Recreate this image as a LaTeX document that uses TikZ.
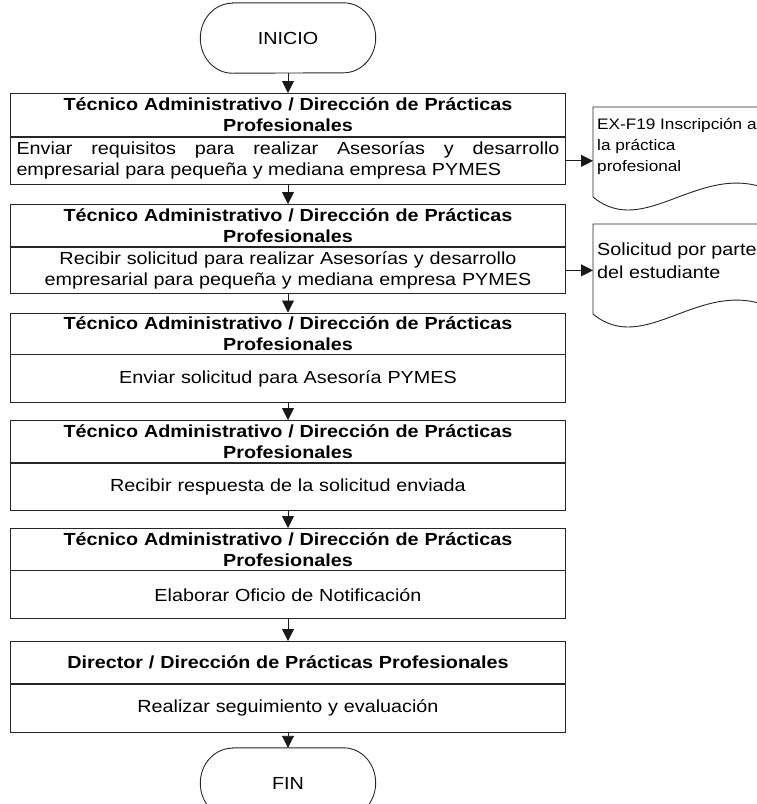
\documentclass[tikz,border=0pt]{standalone}
\usepackage{fontspec}
\setmainfont{Liberation Sans}[FakeStretch=1.13]
\usetikzlibrary{arrows.meta,calc}
\hyphenpenalty=10000
\exhyphenpenalty=10000
\begin{document}
\begin{tikzpicture}[x=1pt,y=-1pt,
  line/.style={draw=black!85, line width=0.9pt},
  arr/.style={draw=black!90, line width=0.9pt, -{Triangle[length=12pt,width=12pt]}},
  hdr/.style={line, anchor=north, minimum width=554.5pt, text width=545pt, align=center, inner sep=0pt, font=\fontsize{17.5}{21}\selectfont\bfseries},
  bdy/.style={line, anchor=north, minimum width=554.5pt, text width=543pt, align=center, inner sep=0pt, font=\fontsize{17.5}{21}\selectfont},
  term/.style={minimum width=175pt, minimum height=70pt, inner sep=0pt, font=\fontsize{17.5}{21}\selectfont},
  docbox/.style={minimum width=177pt, minimum height=92pt, inner sep=0pt, anchor=north west},
  doctxt/.style={anchor=north west, align=left, inner sep=0pt}
]
\useasboundingbox (0,0) rectangle (757,804);
\clip (0,0) rectangle (757,804);

% INICIO
\node[term] (inicio) at (288,38) {INICIO};
\draw[line] ([xshift=32pt]inicio.north west) -- ([xshift=-32pt]inicio.north east)
  arc[start angle=90,end angle=-90,x radius=32pt,y radius=35pt]
  -- ([xshift=32pt]inicio.south west)
  arc[start angle=270,end angle=90,x radius=32pt,y radius=35pt] -- cycle;

% Box 1
\node[hdr, minimum height=43pt] (h1) at (288,93) {Técnico Administrativo / Dirección de Prácticas\\Profesionales};
\node[bdy, minimum height=47pt, align=justify] (b1) at (h1.south) {Enviar requisitos para realizar Asesorías y desarrollo\linebreak empresarial para pequeña y mediana empresa PYMES};

% Box 2
\node[hdr, minimum height=42pt] (h2) at (288,204) {Técnico Administrativo / Dirección de Prácticas\\Profesionales};
\node[bdy, minimum height=46pt] (b2) at (h2.south) {Recibir solicitud para realizar Asesorías y desarrollo\\empresarial para pequeña y mediana empresa PYMES};

% Box 3
\node[hdr, minimum height=41pt] (h3) at (288,312.5) {Técnico Administrativo / Dirección de Prácticas\\Profesionales};
\node[bdy, minimum height=48pt] (b3) at (h3.south) {Enviar solicitud para Asesoría PYMES};

% Box 4
\node[hdr, minimum height=42pt] (h4) at (288,420) {Técnico Administrativo / Dirección de Prácticas\\Profesionales};
\node[bdy, minimum height=47pt] (b4) at (h4.south) {Recibir respuesta de la solicitud enviada};

% Box 5
\node[hdr, minimum height=41.5pt] (h5) at (288,528) {Técnico Administrativo / Dirección de Prácticas\\Profesionales};
\node[bdy, minimum height=48pt] (b5) at (h5.south) {Elaborar Oficio de Notificación};

% Box 6
\node[hdr, minimum height=42pt] (h6) at (288,641) {Director / Dirección de Prácticas Profesionales};
\node[bdy, minimum height=48pt] (b6) at (h6.south) {Realizar seguimiento y evaluación};

% FIN
\node[term] (fin) at (288,783) {FIN};
\draw[line] ([xshift=32pt]fin.north west) -- ([xshift=-32pt]fin.north east)
  arc[start angle=90,end angle=-90,x radius=32pt,y radius=35pt]
  -- ([xshift=32pt]fin.south west)
  arc[start angle=270,end angle=90,x radius=32pt,y radius=35pt] -- cycle;

% Documents
\node[docbox] (d1) at (593,107) {};
\draw[line] (593,197) -- (593,107) -- (770,107) -- (770,190)
  .. controls (700,160) and (645,240) .. (593,197);
\node[doctxt, font=\fontsize{15.2}{21}\selectfont] (d1t) at (597,118) {EX-F19 Inscripción a\\la práctica\\profesional};

\node[docbox] (d2) at (593,224) {};
\draw[line] (593,314) -- (593,224) -- (770,224) -- (770,307)
  .. controls (700,277) and (645,357) .. (593,314);
\node[doctxt, font=\fontsize{17.5}{22.5}\selectfont] (d2t) at (597,243) {Solicitud por parte\\del estudiante};

% Connectors
\draw[arr] (inicio.south) -- (h1.north);
\draw[arr] (b1.south) -- (h2.north);
\draw[arr] (b2.south) -- (h3.north);
\draw[arr] (b3.south) -- (h4.north);
\draw[arr] (b4.south) -- (h5.north);
\draw[arr] (b5.south) -- (h6.north);
\draw[arr] (b6.south) -- (fin.north);
\draw[arr] (b1.east) -- (b1.east -| d1.west);
\draw[arr] (b2.east) -- (b2.east -| d2.west);
\end{tikzpicture}
\end{document}
